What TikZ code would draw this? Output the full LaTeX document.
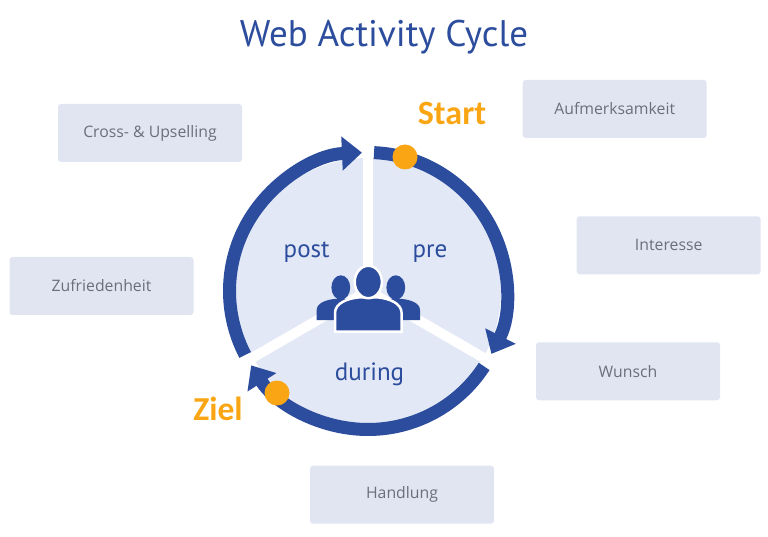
\documentclass[tikz,border=0pt]{standalone}
\usepackage{fontspec}
\setmainfont{Open Sans}
\newfontfamily\titlefont{PT Sans}
\newfontfamily\markfont{Carlito}
\usetikzlibrary{arrows.meta, calc}
\definecolor{ringblue}{RGB}{44,77,157}
\definecolor{discfill}{RGB}{227,232,246}
\definecolor{boxfill}{RGB}{225,229,242}
\definecolor{boxtext}{RGB}{108,110,122}
\definecolor{markorange}{RGB}{250,166,20}

\begin{document}
\begin{tikzpicture}[x=1pt, y=1pt,
	stage/.style={fill=boxfill, rounded corners=3pt, minimum width=184pt, minimum height=58pt, text=boxtext, font=\fontsize{15.8}{18}\selectfont},
	ring/.style={draw=ringblue, line width=13pt, -{Triangle[width=33pt, length=20pt]}},
	phase/.style={text=ringblue, font=\titlefont\fontsize{25}{28}\selectfont, anchor=base}]
	\useasboundingbox (0,0) rectangle (768,536);
	\coordinate (c) at (368,245);
	% stages round the cycle
	\node[stage] (cross) at (150,403) {Cross- \& Upselling};
	\node[stage] (zufr) at (101.5,250) {Zufriedenheit};
	\node[stage] (aufm) at (614.7,427) {Aufmerksamkeit};
	\node[stage] (inter) at (668.7,290.7) {Interesse};
	\node[stage] (wunsch) at (628,164.7) {Wunsch};
	\node[stage] (handl) at (402,41.3) {Handlung};
	% disc and spokes
	\fill[discfill] (c) circle[radius=133];
	\foreach \a in {90, 210, 330}
		\draw[white, line width=10pt] (c) -- ($(c)+(\a:134)$);
	% the three arcs
	\draw[ring] ($(c)+(87.5:138.5)$) arc[start angle=87.5, end angle=-27, radius=138.5];
	\draw[ring] ($(c)+(-33:138.5)$) arc[start angle=-33, end angle=-147.5, radius=138.5];
	\draw[ring] ($(c)+(207.5:138.5)$) arc[start angle=207.5, end angle=92.5, radius=138.5];
	\fill[markorange] (405,379) circle[radius=12.5] coordinate (s);
	\fill[markorange] (277,143) circle[radius=12.5] coordinate (z);
	% people icon
	\begin{scope}[fill=ringblue]
		\fill (340.8,248.5) ellipse[x radius=9.4, y radius=12.2];
		\fill (395.8,248.5) ellipse[x radius=9.4, y radius=12.2];
		\fill (316.7,216) -- (316.7,226) .. controls (316.7,233) and (326,236) .. (334,237) -- (348,237) .. controls (352,236) and (352,226) .. (352,216) -- cycle;
		\fill (420,216) -- (420,226) .. controls (420,233) and (410.6,236) .. (402.6,237) -- (388.6,237) .. controls (384.6,236) and (384.6,226) .. (384.6,216) -- cycle;
		\filldraw[draw=white, line width=2.5pt] (335,204.3) -- (335,223) .. controls (335,233) and (348,237.5) .. (358,238.5) -- (378.6,238.5) .. controls (388.6,237.5) and (401.6,233) .. (401.6,223) -- (401.6,204.3) -- cycle;
		\filldraw[draw=white, line width=2.5pt] (368.3,254) ellipse[x radius=13.6, y radius=16.2];
	\end{scope}
	% labels
	\node[phase] (post) at (306.7,278) {post};
	\node[phase] (pre) at (430,278) {pre};
	\node[phase] (during) at (369.5,156) {during};
	\node[anchor=base, text=markorange, font=\markfont\bfseries\fontsize{34}{36}\selectfont] (start) at (452,411) {Start};
	\node[anchor=base, text=markorange, font=\markfont\bfseries\fontsize{33.5}{36}\selectfont] (ziel) at (218,116) {Ziel};
	\node[anchor=base, text=ringblue, font=\titlefont\fontsize{37}{40}\selectfont] (title) at (384,489.3) {Web Activity Cycle};
\end{tikzpicture}
\end{document}
